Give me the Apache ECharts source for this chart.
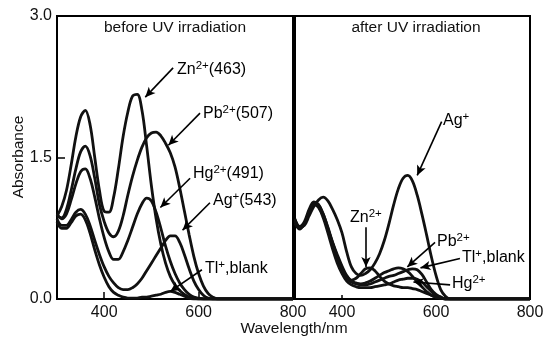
<!DOCTYPE html>
<html>
<head>
<meta charset="utf-8">
<script src="https://cdn.jsdelivr.net/npm/echarts@6/dist/echarts.min.js"></script>
<style>
  html, body { margin: 0; padding: 0; background: #fff; }
  #chart { width: 548px; height: 337px; }
</style>
</head>
<body>
<div id="chart"></div>
<script>
// wavelength grid (nm) shared by every spectrum
const wavelengths = [300, 310, 320, 330, 340, 350, 360, 370, 380, 390, 400, 410, 420, 430, 440, 450, 460, 470, 480, 490,
  500, 510, 520, 530, 540, 550, 560, 570, 580, 590, 600, 610, 620, 630, 640, 650, 800];

// before UV irradiation
const znBefore = [0.88, 0.98, 1.15, 1.42, 1.72, 1.93, 2.0, 1.85, 1.5, 1.15, 0.93, 0.92, 1.08, 1.38, 1.72, 1.98, 2.15, 2.17, 2.0, 1.62,
  1.2, 0.85, 0.58, 0.38, 0.24, 0.15, 0.09, 0.05, 0.02, 0.01, 0, 0, 0, 0, 0, 0, 0];
const pbBefore = [0.88, 0.86, 0.95, 1.15, 1.38, 1.56, 1.62, 1.52, 1.28, 1.0, 0.82, 0.7, 0.66, 0.72, 0.88, 1.1, 1.3, 1.47, 1.61, 1.71,
  1.76, 1.77, 1.73, 1.65, 1.55, 1.4, 1.18, 0.93, 0.68, 0.45, 0.27, 0.14, 0.06, 0.02, 0, 0, 0];
const hgBefore = [0.9, 0.85, 0.9, 1.05, 1.22, 1.35, 1.38, 1.28, 1.08, 0.85, 0.65, 0.5, 0.42, 0.42, 0.5, 0.62, 0.76, 0.9, 1.01, 1.07,
  1.04, 0.92, 0.75, 0.56, 0.4, 0.27, 0.17, 0.1, 0.05, 0.02, 0.01, 0, 0, 0, 0, 0, 0];
const agBefore = [0.85, 0.78, 0.78, 0.84, 0.92, 0.95, 0.9, 0.78, 0.62, 0.47, 0.34, 0.24, 0.17, 0.12, 0.1, 0.1, 0.12, 0.16, 0.22, 0.3,
  0.38, 0.46, 0.54, 0.62, 0.67, 0.67, 0.6, 0.47, 0.32, 0.19, 0.1, 0.04, 0.01, 0, 0, 0, 0];
const tlBefore = [0.82, 0.75, 0.75, 0.81, 0.88, 0.9, 0.84, 0.7, 0.52, 0.36, 0.23, 0.13, 0.07, 0.04, 0.02, 0.01, 0.01, 0.01, 0.02, 0.02,
  0.03, 0.04, 0.05, 0.07, 0.08, 0.07, 0.05, 0.03, 0.01, 0, 0, 0, 0, 0, 0, 0, 0];

// after UV irradiation
const agAfter = [0.85, 0.76, 0.78, 0.88, 0.98, 1.05, 1.08, 1.04, 0.95, 0.84, 0.7, 0.5, 0.34, 0.27, 0.25, 0.27, 0.31, 0.38, 0.48, 0.62,
  0.8, 1.0, 1.17, 1.28, 1.31, 1.25, 1.1, 0.9, 0.68, 0.45, 0.25, 0.1, 0.03, 0, 0, 0, 0];
const znAfter = [0.8, 0.74, 0.8, 0.92, 1.0, 0.98, 0.88, 0.74, 0.6, 0.47, 0.35, 0.25, 0.2, 0.22, 0.27, 0.32, 0.33, 0.3, 0.24, 0.19,
  0.16, 0.14, 0.13, 0.12, 0.12, 0.11, 0.1, 0.08, 0.06, 0.04, 0.02, 0.01, 0, 0, 0, 0, 0];
const pbAfter = [0.82, 0.75, 0.8, 0.93, 1.02, 1.0, 0.9, 0.76, 0.6, 0.45, 0.33, 0.24, 0.19, 0.17, 0.16, 0.17, 0.19, 0.22, 0.25, 0.28,
  0.3, 0.32, 0.33, 0.32, 0.29, 0.24, 0.18, 0.13, 0.08, 0.04, 0.02, 0.01, 0, 0, 0, 0, 0];
const tlAfter = [0.84, 0.77, 0.82, 0.95, 1.03, 1.0, 0.9, 0.75, 0.58, 0.43, 0.31, 0.22, 0.18, 0.16, 0.15, 0.15, 0.16, 0.18, 0.2, 0.22,
  0.24, 0.25, 0.27, 0.29, 0.31, 0.32, 0.31, 0.26, 0.18, 0.1, 0.05, 0.02, 0, 0, 0, 0, 0];
const hgAfter = [0.83, 0.76, 0.8, 0.92, 1.0, 0.97, 0.86, 0.7, 0.53, 0.38, 0.27, 0.19, 0.15, 0.13, 0.12, 0.12, 0.12, 0.13, 0.14, 0.15,
  0.16, 0.18, 0.2, 0.21, 0.22, 0.22, 0.21, 0.18, 0.13, 0.08, 0.04, 0.02, 0, 0, 0, 0, 0];

const xTickLabels = [400, 600, 800];
const yTickLabels = [0, 1.5, 3.0];

const FONT = '"Liberation Sans", Arial, Helvetica, sans-serif';

const chart = echarts.init(document.getElementById('chart'), null, { renderer: 'canvas' });

function spectrum(name, values, idx) {
  return {
    type: 'line',
    name: name,
    xAxisIndex: idx,
    yAxisIndex: idx,
    data: wavelengths.map((w, i) => [w, values[i]]),
    smooth: 0.35,
    symbol: 'none',
    silent: true,
    lineStyle: { color: '#111', width: 2.8 },
    z: 2
  };
}

// arrows for the annotations, given in axis units
function arrows(idx, pairs) {
  return {
    type: 'line',
    xAxisIndex: idx,
    yAxisIndex: idx,
    data: [],
    silent: true,
    markLine: {
      silent: true,
      symbol: ['none', 'arrow'],
      symbolSize: [7, 10],
      label: { show: false },
      lineStyle: { color: '#000', width: 1.6, type: 'solid' },
      emphasis: { disabled: true },
      data: pairs.map(p => [{ coord: p[0] }, { coord: p[1] }])
    },
    z: 3
  };
}

const rich = {
  n: { fontSize: 16, fontFamily: FONT, color: '#111', lineHeight: 21 },
  s: { fontSize: 11.5, fontFamily: FONT, color: '#111', verticalAlign: 'top' }
};

function label(x, y, text) {
  return {
    type: 'text', x: x, y: y, silent: true,
    style: { text: text, rich: rich, align: 'left', verticalAlign: 'middle' }
  };
}

function plain(x, y, text, extra) {
  return Object.assign({
    type: 'text', x: x, y: y, silent: true,
    style: { text: text, fontSize: 15.5, fontFamily: FONT, fill: '#111', align: 'center', verticalAlign: 'middle' }
  }, extra || {});
}

function xAxisFor(idx) {
  return {
    type: 'value', gridIndex: idx, min: 300, max: 800, interval: 100,
    axisLine: { show: false },
    splitLine: { show: false },
    axisTick: {
      show: true, inside: true, length: idx === 0 ? 7 : 4,
      customValues: idx === 0 ? [400, 600] : [400],
      lineStyle: { color: '#000', width: 1.5 }
    },
    axisLabel: {
      customValues: xTickLabels, margin: 6,
      fontSize: 16, fontFamily: FONT, color: '#111'
    }
  };
}

function yAxisFor(idx) {
  return {
    type: 'value', gridIndex: idx, min: 0, max: 3, interval: 1.5,
    axisLine: { show: false },
    splitLine: { show: false },
    axisTick: {
      show: idx === 0, inside: true, length: 8,
      customValues: [1.5],
      lineStyle: { color: '#000', width: 1.5 }
    },
    axisLabel: {
      show: idx === 0, customValues: yTickLabels, margin: 5,
      fontSize: 16, fontFamily: FONT, color: '#111',
      formatter: v => v.toFixed(1)
    }
  };
}

const option = {
  animation: false,
  backgroundColor: '#fff',
  grid: [
    { left: 57, right: 255, top: 16, bottom: 38, show: true, borderColor: '#000', borderWidth: 2, backgroundColor: 'transparent' },
    { left: 295, right: 18, top: 16, bottom: 38, show: true, borderColor: '#000', borderWidth: 2, backgroundColor: 'transparent' }
  ],
  xAxis: [xAxisFor(0), xAxisFor(1)],
  yAxis: [yAxisFor(0), yAxisFor(1)],
  series: [
    spectrum('Zn before', znBefore, 0),
    spectrum('Pb before', pbBefore, 0),
    spectrum('Hg before', hgBefore, 0),
    spectrum('Ag before', agBefore, 0),
    spectrum('Tl before', tlBefore, 0),
    spectrum('Ag after', agAfter, 1),
    spectrum('Zn after', znAfter, 1),
    spectrum('Pb after', pbAfter, 1),
    spectrum('Tl after', tlAfter, 1),
    spectrum('Hg after', hgAfter, 1),
    arrows(0, [
      [[546, 2.45], [487, 2.14]],
      [[603, 1.97], [536, 1.63]],
      [[582, 1.28], [519, 0.97]],
      [[624, 1.02], [566, 0.73]],
      [[607, 0.31], [540, 0.08]]
    ]),
    arrows(1, [
      [[612, 1.88], [560, 1.31]],
      [[451, 0.76], [451, 0.34]],
      [[598, 0.6], [539, 0.34]],
      [[651, 0.43], [567, 0.33]],
      [[630, 0.15], [552, 0.18]]
    ])
  ],
  graphic: [
    plain(175, 28, 'before UV irradiation'),
    plain(416, 28, 'after UV irradiation'),
    plain(294, 329, 'Wavelength/nm'),
    plain(19, 157, 'Absorbance', { rotation: Math.PI / 2 }),
    label(177, 70, '{n|Zn}{s|2+}{n|(463)}'),
    label(203, 114, '{n|Pb}{s|2+}{n|(507)}'),
    label(193, 174, '{n|Hg}{s|2+}{n|(491)}'),
    label(213, 201, '{n|Ag}{s|+}{n|(543)}'),
    label(205, 269, '{n|Tl}{s|+}{n|,blank}'),
    label(443, 121, '{n|Ag}{s|+}'),
    label(350, 218, '{n|Zn}{s|2+}'),
    label(437, 242, '{n|Pb}{s|2+}'),
    label(462, 258, '{n|Tl}{s|+}{n|,blank}'),
    label(452, 284, '{n|Hg}{s|2+}')
  ]
};

chart.setOption(option);
</script>
</body>
</html>
